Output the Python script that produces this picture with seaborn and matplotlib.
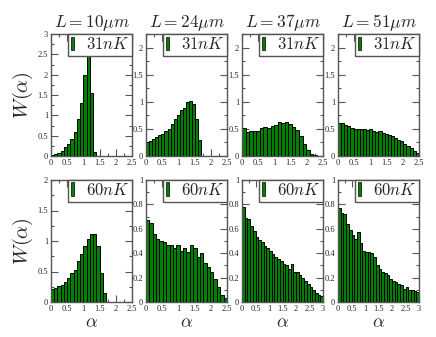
import numpy as np
import pandas as pd
import matplotlib
matplotlib.use("Agg")
import matplotlib.pyplot as plt
import seaborn as sns
from matplotlib.patches import Patch
from matplotlib.ticker import MultipleLocator, FuncFormatter

# ---- data ----
titles = ["$L = 10\\mu m$", "$L = 24\\mu m$", "$L = 37\\mu m$", "$L = 51\\mu m$"]
temps = ["$31nK$", "$60nK$"]

# top row (31 nK)
w31_L10 = [0.02, 0.05, 0.08, 0.13, 0.22, 0.30, 0.42, 0.60, 0.90, 1.30, 1.98, 2.54, 1.56, 0.10]
w31_L24 = [0.26, 0.27, 0.31, 0.35, 0.38, 0.41, 0.46, 0.50, 0.59, 0.68, 0.75, 0.84, 0.89, 1.00,
           1.02, 0.95, 0.68, 0.30]
w31_L37 = [0.51, 0.44, 0.47, 0.47, 0.47, 0.52, 0.53, 0.52, 0.55, 0.58, 0.62, 0.60, 0.62, 0.59,
           0.54, 0.48, 0.37, 0.22, 0.11, 0.04, 0.02]
w31_L51 = [0.61, 0.60, 0.57, 0.55, 0.52, 0.50, 0.49, 0.50, 0.49, 0.48, 0.49, 0.46, 0.45, 0.46,
           0.42, 0.40, 0.38, 0.37, 0.33, 0.30, 0.27, 0.23, 0.19, 0.15, 0.10, 0.05]
# bottom row (60 nK)
w60_L10 = [0.22, 0.23, 0.26, 0.28, 0.32, 0.40, 0.47, 0.53, 0.68, 0.78, 0.91, 1.04, 1.11, 1.11,
           0.92, 0.48, 0.14]
w60_L24 = [0.67, 0.65, 0.56, 0.52, 0.50, 0.49, 0.47, 0.47, 0.44, 0.47, 0.42, 0.44, 0.41, 0.47,
           0.44, 0.37, 0.40, 0.32, 0.29, 0.25, 0.19, 0.12, 0.06, 0.03]
w60_L37 = [0.78, 0.69, 0.68, 0.62, 0.58, 0.53, 0.51, 0.49, 0.46, 0.44, 0.42, 0.39, 0.37, 0.35,
           0.34, 0.31, 0.30, 0.27, 0.31, 0.25, 0.25, 0.22, 0.20, 0.17, 0.15, 0.12, 0.10, 0.07,
           0.06, 0.05]
w60_L51 = [0.77, 0.73, 0.72, 0.64, 0.59, 0.55, 0.52, 0.57, 0.48, 0.42, 0.41, 0.41, 0.40, 0.37,
           0.30, 0.27, 0.25, 0.24, 0.22, 0.19, 0.17, 0.16, 0.15, 0.14, 0.11, 0.12, 0.10, 0.10,
           0.09, 0.08]

bin_widths = [[0.10, 0.095, 0.11, 0.096], [0.10, 0.104, 0.10, 0.10]]
heights = [[w31_L10, w31_L24, w31_L37, w31_L51], [w60_L10, w60_L24, w60_L37, w60_L51]]

xlims = [[2.5, 2.5, 2.5, 2.5], [2.5, 2.5, 3.0, 3.0]]
ylims = [[3.0, 2.25, 2.25, 2.25], [2.0, 1.0, 1.0, 1.0]]
ymaj = [[0.5, 0.5, 0.5, 0.5], [0.5, 0.2, 0.2, 0.2]]

# ---- style ----
sns.set_style("ticks")
plt.rcParams["mathtext.fontset"] = "cm"
plt.rcParams["font.family"] = ["Liberation Serif", "DejaVu Serif"]

GREEN = "#008000"
FRAME = "#555555"

fig = plt.figure(figsize=(4.36, 3.37), dpi=100)
W, H = 436.0, 337.0
lefts = [51, 146, 242, 338]
tops = [34, 180]
aw, ah = 81, 122

fmt = FuncFormatter(lambda v, p: "%g" % round(v, 3))

for r in range(2):
    for c in range(4):
        ax = fig.add_axes([lefts[c] / W, 1 - (tops[r] + ah) / H, aw / W, ah / H])
        h = np.array(heights[r][c])
        bw = bin_widths[r][c]
        n = len(h)
        edges = np.linspace(0, bw * n, n + 1)
        df = pd.DataFrame({"alpha": (edges[:-1] + edges[1:]) / 2, "W": h})
        sns.histplot(data=df, x="alpha", weights="W", bins=[float(e) for e in edges], ax=ax,
                     color=GREEN, edgecolor="black", linewidth=0.7, alpha=1.0, stat="count")
        ax.set_xlim(0, xlims[r][c])
        ax.set_ylim(0, ylims[r][c])
        ax.xaxis.set_major_locator(MultipleLocator(0.5))
        ax.xaxis.set_minor_locator(MultipleLocator(0.25))
        ax.yaxis.set_major_locator(MultipleLocator(ymaj[r][c]))
        ax.yaxis.set_minor_locator(MultipleLocator(ymaj[r][c] / 2))
        ax.xaxis.set_major_formatter(fmt)
        ax.yaxis.set_major_formatter(fmt)
        ax.tick_params(which="both", direction="in", top=True, right=True,
                       color=FRAME, width=0.8, labelsize=6, pad=2)
        ax.tick_params(which="major", length=5)
        ax.tick_params(which="minor", length=2.5)
        for s in ax.spines.values():
            s.set_color(FRAME)
            s.set_linewidth(1.0)
        ax.set_ylabel("")
        ax.set_xlabel("")
        if c == 0:
            ax.set_ylabel("$W(\\alpha)$", fontsize=14.5, labelpad=2)
        if r == 1:
            ax.set_xlabel("$\\alpha$", fontsize=13, labelpad=1)
        if r == 0:
            ax.set_title(titles[c], fontsize=12.5, pad=5)
        leg = ax.legend(handles=[Patch(facecolor=GREEN, edgecolor="black", linewidth=0.5)],
                        labels=[temps[r]], loc="upper right", borderaxespad=0,
                        fancybox=False, edgecolor=FRAME, framealpha=1,
                        handlelength=0.22, handleheight=0.9, handletextpad=0.7,
                        borderpad=0.15, fontsize=12)
        leg.get_frame().set_linewidth(1.0)

fig.savefig("out.png", dpi=100)
